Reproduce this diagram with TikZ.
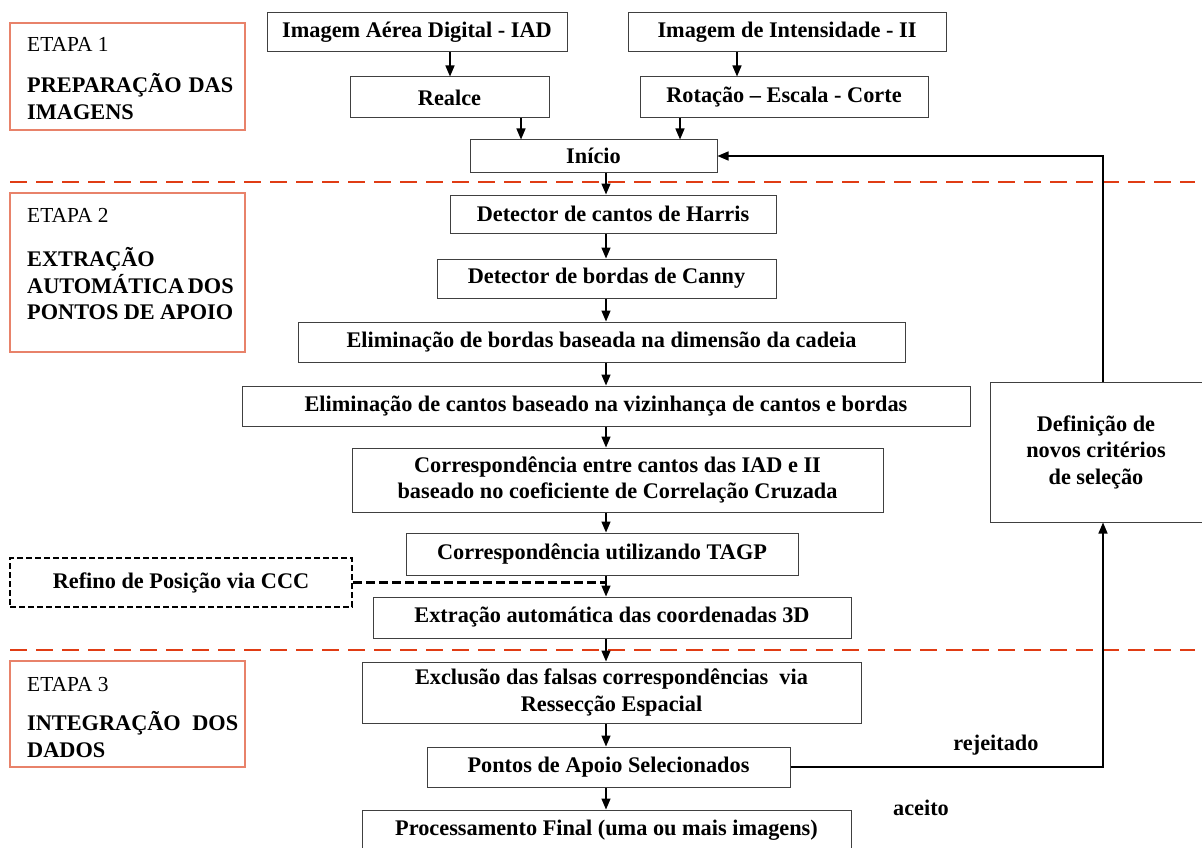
\documentclass[tikz,border=0pt]{standalone}
\usepackage{fontspec}
\setmainfont{Liberation Serif}
\usetikzlibrary{arrows.meta}
\definecolor{stagered}{HTML}{E03C14}
\definecolor{stageframe}{HTML}{E8826A}
\begin{document}
\begin{tikzpicture}[x=1pt,y=-1pt,
  box/.style={draw=black!75, line width=1pt, inner sep=0pt, align=center,
    font=\fontsize{22.3}{26.5}\selectfont\bfseries},
  stagebox/.style={draw=stageframe, line width=1.3pt, inner sep=0pt},
  stagenum/.style={anchor=base west, inner sep=0pt, font=\fontsize{21.4}{26}\selectfont},
  stagetitle/.style={anchor=base west, inner sep=0pt,
    font=\fontsize{22.3}{26}\selectfont\bfseries},
  refbox/.style={draw=black, line width=2.6pt, dash pattern=on 6pt off 3pt,
    inner sep=0pt, font=\fontsize{22.3}{26}\selectfont\bfseries},
  flow/.style={line width=1.4pt, -{Triangle[length=11pt,width=9pt]}},
  divider/.style={stagered, line width=2.6pt, dash pattern=on 17pt off 9pt},
  tag/.style={inner sep=0pt, font=\fontsize{22.3}{26}\selectfont\bfseries}
]
\useasboundingbox (0,0) rectangle (1202,848);

% stage dividers
\draw[divider] (10,182) -- (1195,182);
\draw[divider] (10,650) -- (1195,650);

% stage labels
\node[stagebox, minimum width=235, minimum height=107] (st1) at (127.5,76.5) {};
\node[stagenum] (st1n) at (27,52) {ETAPA 1};
\node[stagetitle] (st1a) at (27,93) {\makebox[206pt][s]{PREPARAÇÃO DAS}};
\node[stagetitle] (st1b) at (27,120) {IMAGENS};

\node[stagebox, minimum width=235, minimum height=159] (st2) at (127.5,272.5) {};
\node[stagenum] (st2n) at (27,222) {ETAPA 2};
\node[stagetitle] (st2a) at (27,266) {EXTRAÇÃO};
\node[stagetitle] (st2b) at (27,293) {\makebox[206pt][s]{AUTOMÁTICA DOS}};
\node[stagetitle] (st2c) at (27,319) {\makebox[206pt][s]{PONTOS DE APOIO}};

\node[stagebox, minimum width=235, minimum height=106] (st3) at (127.5,714) {};
\node[stagenum] (st3n) at (27,691) {ETAPA 3};
\node[stagetitle] (st3a) at (27,730) {\makebox[211pt][s]{INTEGRAÇÃO DOS}};
\node[stagetitle] (st3b) at (27,757) {DADOS};

% stage 1
\node[box, minimum width=300, minimum height=39] (iad) at (417,32.5) {\raisebox{-2pt}{Imagem Aérea Digital - IAD}};
\node[box, minimum width=318, minimum height=39] (ii) at (787,32.5) {\raisebox{-2pt}{Imagem de Intensidade - II}};
\node[box, minimum width=199, minimum height=41] (realce) at (449.5,97.5) {Realce};
\node[box, minimum width=288, minimum height=41] (rot) at (784,97.5) {Rotação – Escala - Corte};
\node[box, minimum width=247, minimum height=32] (inicio) at (593.5,156) {\raisebox{-5pt}{Início}};

% stage 2
\node[box, minimum width=326, minimum height=38] (harris) at (613,214) {Detector de cantos de Harris};
\node[box, minimum width=339, minimum height=39] (canny) at (606.5,278.5) {Detector de bordas de Canny};
\node[box, minimum width=607, minimum height=40] (elimb) at (601.5,342) {Eliminação de bordas baseada na dimensão da cadeia};
\node[box, minimum width=728, minimum height=40] (elimc) at (606,406) {Eliminação de cantos baseado na vizinhança de cantos e bordas};
\node[box, minimum width=531, minimum height=64] (corr) at (617.5,480) {Correspondência entre cantos das IAD e II\\baseado no coeficiente de Correlação Cruzada};
\node[box, minimum width=392, minimum height=42] (tagp) at (602,554) {Correspondência utilizando TAGP};
\node[refbox, minimum width=342, minimum height=49] (refino) at (181,582.5) {Refino de Posição via CCC};
\node[box, minimum width=478, minimum height=41] (extr) at (612,617.5) {Extração automática das coordenadas 3D};

% stage 3
\node[box, minimum width=499, minimum height=61] (excl) at (611.5,692.5) {Exclusão das falsas correspondências\ \ via\\Ressecção Espacial};
\node[box, minimum width=363, minimum height=40] (pontos) at (608.5,767) {Pontos de Apoio Selecionados};
\node[box, minimum width=489, minimum height=40] (proc) at (606.5,830) {Processamento Final (uma ou mais imagens)};
\node[box, minimum width=212, minimum height=140] (def) at (1096,452) {Definição de\\novos critérios\\de seleção};

\node[tag] (rej) at (996,745) {rejeitado};
\node[tag] (ace) at (921,808) {aceito};

% connectors, stage 1
\draw[flow] (450,0 |- iad.south) -- (450,0 |- realce.north);
\draw[flow] (737,0 |- ii.south) -- (737,0 |- rot.north);
\draw[flow] (521,0 |- realce.south) -- (521,0 |- inicio.north);
\draw[flow] (680,0 |- rot.south) -- (680,0 |- inicio.north);

% connectors, main chain
\draw[flow] (606,0 |- inicio.south) -- (606,0 |- harris.north);
\draw[flow] (606,0 |- harris.south) -- (606,0 |- canny.north);
\draw[flow] (606,0 |- canny.south) -- (606,0 |- elimb.north);
\draw[flow] (606,0 |- elimb.south) -- (606,0 |- elimc.north);
\draw[flow] (606,0 |- elimc.south) -- (606,0 |- corr.north);
\draw[flow] (606,0 |- corr.south) -- (606,0 |- tagp.north);
\draw[flow] (606,0 |- tagp.south) -- (606,0 |- extr.north);
\coordinate (join) at (606,0 |- refino.east);
\draw[line width=2.4pt, dash pattern=on 9pt off 4pt] (refino.east) -- (join);
\draw[flow] (606,0 |- extr.south) -- (606,0 |- excl.north);
\draw[flow] (606,0 |- excl.south) -- (606,0 |- pontos.north);
\draw[flow] (606,0 |- pontos.south) -- (606,0 |- proc.north);

% feedback loop
\draw[flow] (pontos.east) -- (1103,0 |- pontos.east) -- (1103,0 |- def.south);
\draw[flow] (1103,0 |- def.north) |- (inicio.east);
\end{tikzpicture}
\end{document}
